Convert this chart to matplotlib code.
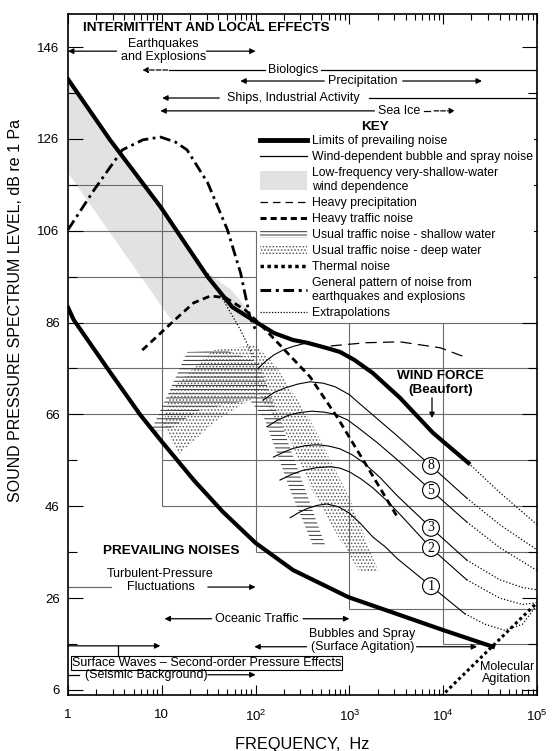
import numpy as np
import matplotlib.pyplot as plt
from matplotlib.lines import Line2D
from matplotlib.patches import Patch, Rectangle
from matplotlib.legend_handler import HandlerPatch

plt.rcParams['font.family'] = ['Liberation Sans', 'DejaVu Sans']
plt.rcParams['mathtext.default'] = 'regular'
plt.rcParams['hatch.linewidth'] = 0.7

# limits of prevailing noise (Hz, dB)
upper_f = [1, 2.8, 9.7, 17.8, 31, 56.2, 105, 158, 251, 355, 562, 794, 1122, 1778, 3467, 7762, 18621]
upper_db = [139.0, 125.8, 111.2, 103.2, 95.9, 89.4, 85.9, 83.7, 82.2, 81.6, 80.5, 79.6, 77.9, 75.0, 69.6, 62.0, 55.4]
lower_f = [1, 1.15, 2.7, 5.9, 9.7, 21.9, 44.7, 100, 251, 977, 2950, 9770, 33900]
lower_db = [89.3, 86.6, 75.7, 65.9, 60.4, 51.7, 44.8, 38.0, 32.1, 26.2, 22.8, 19.1, 15.4]

# wind-dependent curves, Beaufort number -> points
wind_f = {
    8: [120, 158, 209, 282, 380, 525, 708, 1000, 1259, 1995, 3162, 7586, 17783],
    5: [132, 170, 224, 295, 398, 537, 708, 955, 1259, 1995, 3162, 7586, 17783],
    3: [155, 200, 251, 339, 457, 603, 794, 1072, 1413, 2138, 3162, 7413, 17783],
    2: [182, 240, 316, 447, 631, 794, 1000, 1318, 1778, 2512, 3548, 7413, 17783],
    1: [234, 288, 355, 457, 575, 759, 1000, 1318, 1778, 2399, 3236, 7413, 16982],
}
wind_db = {
    8: [69.1, 70.8, 71.8, 72.6, 73.1, 72.8, 72.0, 70.3, 68.5, 65.0, 61.5, 54.6, 47.8],
    5: [63.3, 64.7, 65.8, 66.4, 66.7, 66.5, 66.0, 64.8, 63.0, 59.8, 56.3, 49.3, 42.6],
    3: [56.7, 57.8, 58.6, 59.2, 59.4, 59.1, 58.5, 57.2, 55.5, 52.2, 48.5, 41.3, 34.3],
    2: [51.7, 52.9, 53.8, 54.4, 54.6, 54.3, 53.5, 52.0, 50.0, 47.2, 44.0, 36.9, 30.0],
    1: [43.5, 44.6, 45.5, 46.2, 46.5, 45.9, 44.5, 42.2, 39.3, 37.2, 34.6, 28.6, 22.6],
}
merge_f = [107, 132, 158, 200, 251, 355]
merge_db = [76.1, 77.8, 79.0, 80.1, 80.8, 81.6]
label_f = 7413

# dotted extrapolations
extrap_f = {
    'upper': [18621, 40000, 100000],
    8: [17783, 40000, 100000],
    5: [17783, 40000, 100000],
    3: [17783, 40000, 70000, 100000],
    2: [17783, 40000, 70000, 100000],
    1: [16982, 28000, 45000, 70000, 100000],
    'traffic': [31, 69, 95],
}
extrap_db = {
    'upper': [55.4, 49.0, 42.0],
    8: [47.8, 42.0, 36.5],
    5: [42.6, 37.0, 32.0],
    3: [34.3, 30.0, 28.3, 27.8],
    2: [30.0, 26.0, 24.6, 25.0],
    1: [22.6, 20.3, 19.0, 20.3, 24.5],
    'traffic': [96.7, 84.4, 78.5],
}

thermal_f = [8500, 100000]
thermal_db = [3.6, 25.0]

precip_f = [631, 1480, 3470, 9330, 17000]
precip_db = [80.9, 81.6, 81.8, 80.5, 78.5]

traffic_f = [6.2, 13.8, 21.9, 33.1, 47.9, 78, 120, 380, 741, 1550, 3240]
traffic_db = [80.0, 86.6, 90.3, 91.8, 91.4, 88.7, 85.0, 74.2, 65.4, 54.6, 43.7]

quake_f = [1.0, 1.9, 3.8, 6.3, 9.7, 14, 18.6, 30.9, 50.1, 69.2, 87.1, 100]
quake_db = [106.2, 114.9, 123.6, 125.8, 126.4, 125.3, 123.6, 116.4, 106.2, 96.8, 87.2, 84.4]

# shallow-water wind band (grey)
band_f = [1, 2.8, 9.7, 28, 56, 89, 100, 13.2, 1]
band_db = [139.0, 125.8, 111.2, 97.5, 93.0, 88.0, 86.0, 86.0, 118.6]

# usual traffic: shallow water (hatched) and deep water (stippled)
shallow_f = [7.6, 18.7, 47.5, 107, 182, 339, 550, 407, 234, 126, 87, 25.7, 11.5]
shallow_db = [62.2, 79.6, 80.0, 77.4, 64.8, 49.5, 37.6, 37.6, 49.5, 64.8, 69.1, 67.0, 62.6]
deep_f = [15.0, 10.4, 12.4, 35.5, 100, 162, 380, 1020, 2040, 1290, 794, 398, 234, 107, 38.9]
deep_db = [57.2, 63.7, 71.3, 80.0, 81.1, 76.8, 64.8, 47.4, 31.7, 31.7, 38.7, 49.5, 60.4, 70.2, 64.8]

# staircase grid
grid_h_db = [116, 106, 96, 86, 76, 66, 56, 46, 36, 23.6, 16]
grid_h_from = [1, 1, 1, 1, 1, 1, 10, 10, 100, 1000, 1e4]
grid_h_to = [10, 100, 100, 1e5, 1e5, 1e5, 1e5, 1e5, 1e5, 1e5, 1e5]
grid_v_f = [10, 100, 1000, 1e4]
grid_v_low = [46, 36, 23.6, 16]
grid_v_high = [116, 106, 86, 86]

y_major = [6, 26, 46, 66, 86, 106, 126, 146]
y_minor = [16, 36, 56, 76, 96, 116, 136]
x_ticks = [1, 10, 100, 1e3, 1e4, 1e5]
x_labels = ['1', '10', '$10^2$', '$10^3$', '$10^4$', '$10^5$']

key_labels = ['Limits of prevailing noise',
              'Wind-dependent bubble and spray noise',
              'Low-frequency very-shallow-water\nwind dependence',
              'Heavy precipitation',
              'Heavy traffic noise',
              'Usual traffic noise - shallow water',
              'Usual traffic noise - deep water',
              'Thermal noise',
              'General pattern of noise from\nearthquakes and explosions',
              'Extrapolations']

GRID = '#6a6a6a'
GREY = '#e2e2e2'

fig = plt.figure(figsize=(5.6, 7.51), dpi=100)
ax = fig.add_axes([0.1214, 0.0746, 0.8375, 0.9068])
ax.set_xscale('log')
ax.set_xlim(1, 1e5)
ax.set_ylim(4.9, 153.2)

ax.fill(band_f, band_db, color=GREY, lw=0, zorder=1)
ax.hlines(grid_h_db, grid_h_from, grid_h_to, colors=GRID, lw=0.8, zorder=1.5)
ax.vlines(grid_v_f, grid_v_low, grid_v_high, colors=GRID, lw=0.8, zorder=1.5)
ax.fill(shallow_f, shallow_db, facecolor='none', edgecolor='#333333', hatch='----', lw=0, zorder=2)
ax.fill(deep_f, deep_db, facecolor='none', edgecolor='#555555', hatch='.....', lw=0, zorder=2)

ax.plot(upper_f, upper_db, color='k', lw=3, zorder=6)
ax.plot(lower_f, lower_db, color='k', lw=3, zorder=4)
for b in wind_f:
    ax.plot(wind_f[b], wind_db[b], color='k', lw=0.8, zorder=3)
ax.plot(merge_f, merge_db, color='k', lw=0.8, zorder=3)
for k in extrap_f:
    ax.plot(extrap_f[k], extrap_db[k], color='k', lw=0.9, linestyle=(0, (1, 1.6)), zorder=3)
ax.plot(thermal_f, thermal_db, color='k', lw=2.2, linestyle=(0, (1, 1)), zorder=3)
ax.plot(precip_f, precip_db, color='k', lw=0.9, linestyle=(0, (9, 5)), zorder=3)
ax.plot(traffic_f, traffic_db, color='k', lw=2, linestyle=(0, (2.5, 1.6)), zorder=6)
ax.plot(quake_f, quake_db, color='k', lw=2, linestyle=(0, (4, 1.6, 1, 1.6)), zorder=3)

# Beaufort circles
for b in wind_f:
    yb = np.interp(np.log10(label_f), np.log10(wind_f[b]), wind_db[b])
    ax.text(label_f, yb, str(b), ha='center', va='center', fontsize=10,
            family=['Liberation Serif'], zorder=6,
            bbox=dict(boxstyle='circle,pad=0.14', fc='white', ec='k', lw=0.8))


def arrow(x0, x1, y, ls='-'):
    ax.annotate('', xy=(x1, y), xytext=(x0, y),
                arrowprops=dict(arrowstyle='-|>', color='k', lw=0.9, ls=ls,
                                mutation_scale=8, shrinkA=0, shrinkB=0))


def line(x0, x1, y):
    ax.plot([x0, x1], [y, y], color='k', lw=0.9)


fs = 9
hs = 9.7
# intermittent and local effects
ax.text(1.46, 150.1, 'INTERMITTENT AND LOCAL EFFECTS', fontsize=hs, weight='bold', va='center')
ax.text(10.4, 145.3, 'Earthquakes\nand Explosions', fontsize=fs, ha='center', va='center', linespacing=1.15)
arrow(3.3, 1.0, 145.1)
arrow(30, 100, 145.1)
arrow(11.5, 6.2, 141.0, ls='--')
line(11.8, 125, 141.0)
ax.text(251, 141.0, 'Biologics', fontsize=fs, ha='center', va='center')
line(500, 1e5, 141.0)
arrow(540, 68.7, 138.6)
ax.text(1380, 138.6, 'Precipitation', fontsize=fs, ha='center', va='center')
arrow(3700, 25900, 138.6)
arrow(41, 10.1, 134.9)
ax.text(251, 134.9, 'Ships, Industrial Activity', fontsize=fs, ha='center', va='center')
line(1600, 1e5, 134.9)
arrow(1850, 9.66, 132.1)
ax.text(3400, 132.1, 'Sea Ice', fontsize=fs, ha='center', va='center')
line(6300, 7300, 132.1)
arrow(8000, 13400, 132.1, ls='--')
ax.text(1884, 128.6, 'KEY', fontsize=hs, weight='bold', ha='center', va='center', zorder=10)

# wind force
ax.text(9300, 74.4, 'WIND FORCE', fontsize=hs, weight='bold', ha='center', va='center')
ax.text(9400, 71.4, '(Beaufort)', fontsize=hs, weight='bold', ha='center', va='center')
ax.annotate('', xy=(7600, 65.2), xytext=(7600, 69.6),
            arrowprops=dict(arrowstyle='-|>', color='k', lw=0.9, mutation_scale=8, shrinkA=0, shrinkB=0))

# prevailing noises
ax.text(2.39, 36.3, 'PREVAILING NOISES', fontsize=hs, weight='bold', va='center')
ax.text(9.7, 29.9, 'Turbulent-Pressure\nFluctuations', fontsize=fs, ha='center', va='center', linespacing=1.1)
ax.plot([1, 2.84], [28.4, 28.4], color=GRID, lw=0.9)
arrow(31, 100, 28.4)
arrow(34, 10.7, 21.5)
ax.text(102, 21.5, 'Oceanic Traffic', fontsize=fs, ha='center', va='center')
arrow(320, 1000, 21.5)
ax.text(1380, 16.8, 'Bubbles and Spray\n(Surface Agitation)', fontsize=fs, ha='center', va='center', linespacing=1.05)
arrow(350, 97, 15.4)
arrow(5200, 23000, 15.4)
arrow(1, 9.66, 15.6)
ax.plot([3.45, 3.45], [15.6, 13.5], color='k', lw=0.9)
ax.text(1.1, 11.9, 'Surface Waves \u2013 Second-order Pressure Effects', fontsize=fs, va='center',
        bbox=dict(boxstyle='square,pad=0.1', fc='white', ec='k', lw=0.8))
ax.plot([1, 1.3], [9.3, 9.3], color='k', lw=0.9)
ax.text(6.8, 9.3, '(Seismic Background)', fontsize=fs, ha='center', va='center')
arrow(31, 100, 9.3)
ax.text(48000, 9.7, 'Molecular\nAgitation', fontsize=fs, ha='center', va='center', linespacing=1.0)

# axes styling
ax.set_xticks(x_ticks, labels=x_labels, fontsize=9.5)
ax.set_yticks(y_major, labels=[str(v) for v in y_major], fontsize=9.5)
ax.set_yticks(y_minor, minor=True)
ax.tick_params(which='both', direction='in', top=True, right=True, width=0.8)
ax.tick_params(axis='x', which='major', length=7, pad=10)
ax.tick_params(axis='x', which='minor', length=4)
ax.tick_params(axis='y', which='major', length=11, pad=6)
ax.tick_params(axis='y', which='minor', length=6.5)
for s in ax.spines.values():
    s.set_linewidth(1.2)
ax.set_xlabel('FREQUENCY,  Hz', fontsize=11.8)
ax.xaxis.set_label_coords(0.5, -0.062)
ax.set_ylabel('SOUND PRESSURE SPECTRUM LEVEL, dB re 1 Pa', fontsize=11.5)
ax.yaxis.set_label_coords(-0.095, 0.565)

# key
handles = [
    Line2D([], [], color='k', lw=3.5),
    Line2D([], [], color='k', lw=0.9),
    Patch(facecolor=GREY, lw=0),
    Line2D([], [], color='k', lw=0.9, linestyle=(0, (6, 4))),
    Line2D([], [], color='k', lw=2.2, linestyle=(0, (2, 1.3))),
    Patch(facecolor='white', edgecolor='#333333', hatch='-----', lw=0),
    Patch(facecolor='white', edgecolor='#555555', hatch='.....', lw=0),
    Line2D([], [], color='k', lw=2.5, linestyle=(0, (1, 1))),
    Line2D([], [], color='k', lw=2.2, linestyle=(0, (3.5, 1.5, 1, 1.5))),
    Line2D([], [], color='k', lw=0.9, linestyle=(0, (1, 1.3))),
]


def tall(legend, orig_handle, xdescent, ydescent, width, height, fontsize):
    return Rectangle((-xdescent, -ydescent - 0.65 * height), width, height * 2.3)


leg = ax.legend(handles, key_labels, loc='upper left', bbox_to_anchor=(0.4615, 0.8215),
                bbox_transform=fig.transFigure, fontsize=8.8, handlelength=3.85,
                handletextpad=0.4, labelspacing=0.33, borderpad=0.1, borderaxespad=0,
                frameon=True, fancybox=False, edgecolor='none', facecolor='white', framealpha=1,
                handler_map={handles[2]: HandlerPatch(patch_func=tall)})

fig.savefig('out.png', dpi=100)
